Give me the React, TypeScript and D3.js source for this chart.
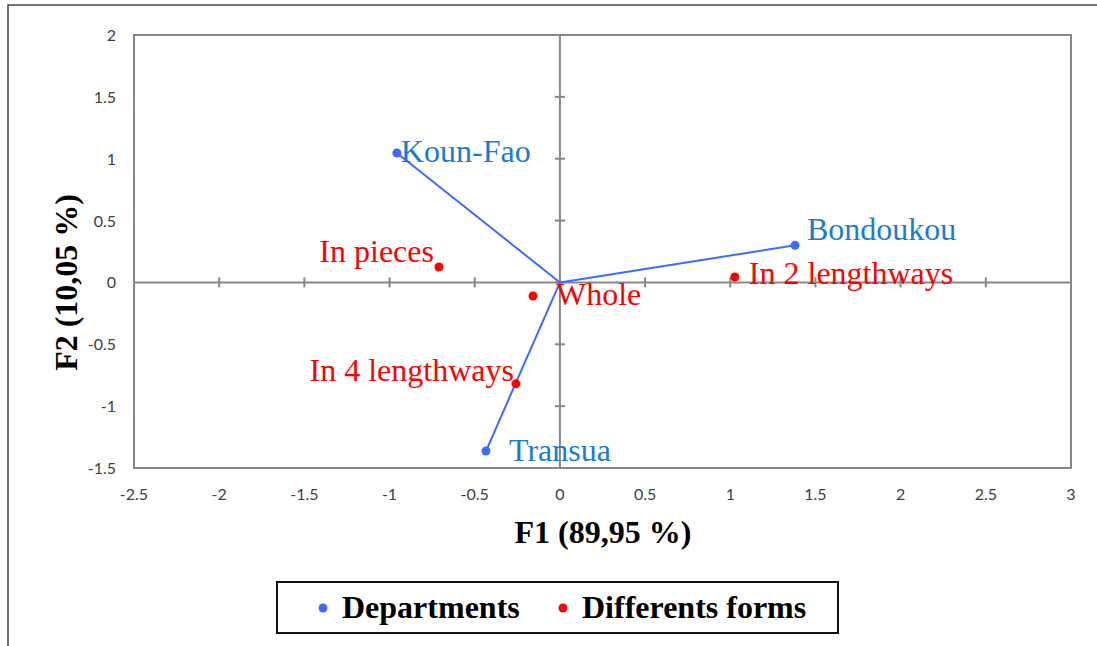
import React, { useEffect, useRef } from 'react';
import * as d3 from 'd3';

// Departments (active observations)
const departments = ['Koun-Fao', 'Bondoukou', 'Transua'];
const deptF1 = [-0.957, 1.38, -0.434];
const deptF2 = [1.046, 0.3, -1.363];

// Different forms (supplementary)
const forms = ['In pieces', 'Whole', 'In 2 lengthways', 'In 4 lengthways'];
const formF1 = [-0.71, -0.158, 1.027, -0.258];
const formF2 = [0.125, -0.11, 0.044, -0.82];

const xTicks = [-2.5, -2, -1.5, -1, -0.5, 0, 0.5, 1, 1.5, 2, 2.5, 3];
const yTicks = [-1.5, -1, -0.5, 0, 0.5, 1, 1.5, 2];

const xTitle = 'F1 (89,95 %)';
const yTitle = 'F2 (10,05 %)';
const legendLabels = ['Departments', 'Differents forms'];

function App() {
    const svgRef = useRef();

    useEffect(() => {
        d3.select(svgRef.current).selectAll('*').remove();

        const W = 1097, H = 646;
        const left = 134, right = 1071, top = 35, bottom = 468;
        const blue = '#3d6bff';
        const blueText = '#1a7ccc';
        const red = '#ff0000';
        const grey = '#878787';

        const svg = d3.select(svgRef.current)
            .attr('width', W)
            .attr('height', H);

        svg.append('rect').attr('width', W).attr('height', H).attr('fill', '#fff');

        // outer frame (top and left visible)
        svg.append('path')
            .attr('d', `M8,${H} L8,5 L${W},5`)
            .attr('fill', 'none')
            .attr('stroke', '#444')
            .attr('stroke-width', 1.5);

        const x = d3.scaleLinear().domain([-2.5, 3]).range([left, right]);
        const y = d3.scaleLinear().domain([-1.5, 2]).range([bottom, top]);

        // plot border
        svg.append('rect')
            .attr('x', left).attr('y', top)
            .attr('width', right - left).attr('height', bottom - top)
            .attr('fill', 'none').attr('stroke', grey).attr('stroke-width', 2);

        // axes through origin
        svg.append('line')
            .attr('x1', left).attr('x2', right)
            .attr('y1', y(0)).attr('y2', y(0))
            .attr('stroke', grey).attr('stroke-width', 2);
        svg.append('line')
            .attr('x1', x(0)).attr('x2', x(0))
            .attr('y1', top).attr('y2', bottom)
            .attr('stroke', grey).attr('stroke-width', 2);

        // cross ticks
        svg.append('g').selectAll('line')
            .data(xTicks.slice(1, -1))
            .join('line')
            .attr('x1', d => x(d)).attr('x2', d => x(d))
            .attr('y1', y(0) - 5).attr('y2', y(0) + 5)
            .attr('stroke', grey).attr('stroke-width', 2);
        svg.append('g').selectAll('line')
            .data(yTicks.slice(1, -1))
            .join('line')
            .attr('x1', x(0) - 5).attr('x2', x(0) + 5)
            .attr('y1', d => y(d)).attr('y2', d => y(d))
            .attr('stroke', grey).attr('stroke-width', 2);

        // tick labels
        const tickFont = 'Lato, "Open Sans", sans-serif';
        svg.append('g').selectAll('text')
            .data(xTicks)
            .join('text')
            .attr('x', d => x(d))
            .attr('y', 500)
            .attr('text-anchor', 'middle')
            .attr('font-family', tickFont)
            .attr('font-size', 16)
            .attr('fill', '#404040')
            .text(d => String(d));
        svg.append('g').selectAll('text')
            .data(yTicks)
            .join('text')
            .attr('x', 116)
            .attr('y', d => y(d) + 6)
            .attr('text-anchor', 'end')
            .attr('font-family', tickFont)
            .attr('font-size', 16)
            .attr('fill', '#404040')
            .text(d => String(d));

        // axis titles
        const titleFont = '"Liberation Serif", "Times New Roman", serif';
        svg.append('text')
            .attr('x', 603).attr('y', 543)
            .attr('text-anchor', 'middle')
            .attr('font-family', titleFont)
            .attr('font-weight', 'bold')
            .attr('font-size', 32)
            .text(xTitle);
        svg.append('text')
            .attr('transform', `translate(77,${y(0)}) rotate(-90)`)
            .attr('text-anchor', 'middle')
            .attr('font-family', titleFont)
            .attr('font-weight', 'bold')
            .attr('font-size', 32)
            .text(yTitle);

        // vectors from origin to departments
        svg.append('g').selectAll('line')
            .data(departments)
            .join('line')
            .attr('x1', x(0)).attr('y1', y(0))
            .attr('x2', (d, i) => x(deptF1[i]))
            .attr('y2', (d, i) => y(deptF2[i]))
            .attr('stroke', blue).attr('stroke-width', 2);

        // label placement relative to each point
        const labelPos = {
            'Koun-Fao': [4, 9, 'start'],
            'Bondoukou': [12, -5, 'start'],
            'Transua': [23, 10, 'start'],
            'In pieces': [-5, -5, 'end'],
            'Whole': [23, 9, 'start'],
            'In 2 lengthways': [14, 7, 'start'],
            'In 4 lengthways': [-2, -3, 'end']
        };

        const drawGroup = (names, f1, f2, dotColor, textColor) => {
            const g = svg.append('g');
            g.selectAll('circle')
                .data(names)
                .join('circle')
                .attr('cx', (d, i) => x(f1[i]))
                .attr('cy', (d, i) => y(f2[i]))
                .attr('r', 4.5)
                .attr('fill', dotColor);
            g.selectAll('text')
                .data(names)
                .join('text')
                .attr('x', (d, i) => x(f1[i]) + labelPos[d][0])
                .attr('y', (d, i) => y(f2[i]) + labelPos[d][1])
                .attr('text-anchor', d => labelPos[d][2])
                .attr('font-family', titleFont)
                .attr('font-size', 32)
                .attr('fill', textColor)
                .text(d => d);
        };
        drawGroup(departments, deptF1, deptF2, blue, blueText);
        drawGroup(forms, formF1, formF2, red, red);

        // legend
        const lg = svg.append('g');
        lg.append('rect')
            .attr('x', 277).attr('y', 582)
            .attr('width', 561).attr('height', 51)
            .attr('fill', '#fff').attr('stroke', '#111').attr('stroke-width', 2);
        const legendX = [323, 563];
        const legendColors = [blue, red];
        legendLabels.forEach((lab, i) => {
            lg.append('circle')
                .attr('cx', legendX[i]).attr('cy', 608)
                .attr('r', 4.5).attr('fill', legendColors[i]);
            lg.append('text')
                .attr('x', legendX[i] + 19).attr('y', 618)
                .attr('font-family', titleFont)
                .attr('font-weight', 'bold')
                .attr('font-size', 32)
                .attr('fill', '#000')
                .text(lab);
        });
    }, []);

    return (
        <div style={{ position: 'absolute', left: 0, top: 0 }}>
            <svg ref={svgRef} style={{ display: 'block' }}></svg>
        </div>
    );
}

export default App;
